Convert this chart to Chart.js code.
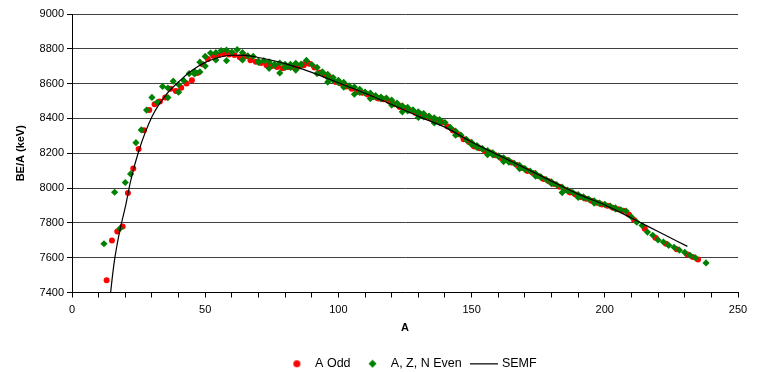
<!DOCTYPE html>
<html>
<head>
<meta charset="utf-8">
<script src="https://cdn.jsdelivr.net/npm/chart.js@4.4.1/dist/chart.umd.min.js"></script>
<style>
html, body { margin: 0; padding: 0; background: #fff; }
#wrap { width: 758px; height: 372px; }
</style>
</head>
<body>
<div id="wrap"><canvas id="chart" width="758" height="372"></canvas></div>
<script>
// odd-A nuclides: mass number and binding energy per nucleon (keV)
const oddA = [13,15,17,19,21,23,25,27,29,31,33,35,37,39,41,43,45,47,49,51,53,55,57,59,61,63,65,67,69,71,73,75,77,79,81,83,85,87,87,89,91,93,95,97,99,101,103,105,107,109,111,113,113,115,115,117,119,121,123,123,125,127,129,131,133,135,137,139,141,143,145,147,149,151,153,155,157,159,161,163,165,167,169,171,173,175,177,179,181,183,185,187,187,189,191,193,195,197,199,201,203,205,207,209,211,215,219,223,227,231,233,235];
const oddBE = [7470,7699,7751,7779,7972,8112,8224,8332,8449,8481,8498,8520,8570,8557,8576,8601,8619,8661,8711,8742,8760,8765,8770,8768,8765,8752,8757,8734,8725,8718,8705,8701,8695,8688,8696,8696,8697,8711,8705,8714,8693,8664,8649,8635,8609,8601,8584,8571,8554,8548,8537,8527,8523,8517,8514,8510,8499,8482,8472,8466,8458,8446,8431,8424,8410,8398,8392,8378,8354,8331,8309,8281,8264,8239,8229,8213,8204,8189,8173,8162,8147,8132,8115,8098,8087,8069,8052,8039,8023,8008,7991,7978,7974,7963,7948,7938,7927,7916,7905,7898,7887,7878,7870,7848,7817,7766,7714,7680,7649,7618,7604,7590];

// even-even nuclides
const evenA = [12,16,18,20,22,24,26,28,30,32,34,36,36,38,40,40,42,44,46,46,48,48,50,50,52,54,54,56,58,58,60,62,64,64,66,68,70,70,72,74,74,76,76,78,78,80,80,82,82,84,84,86,86,88,90,92,92,94,94,96,96,96,98,98,100,100,102,102,104,104,106,106,108,108,110,110,112,112,114,114,116,116,118,120,120,122,122,124,124,124,126,126,128,128,130,130,130,132,132,134,134,136,136,136,138,138,140,142,142,144,144,146,148,148,150,150,152,152,154,154,156,156,158,158,160,160,162,162,164,164,166,168,168,170,170,172,174,174,176,176,178,180,180,182,184,184,186,186,188,190,190,192,192,194,196,196,198,198,200,202,204,204,206,208,210,212,214,216,218,220,222,224,226,228,230,232,234,238];
const evenBE = [7680,7976,7767,8032,8081,8261,8334,8448,8521,8493,8584,8575,8520,8614,8595,8551,8617,8658,8669,8656,8667,8723,8756,8701,8776,8778,8736,8790,8792,8732,8781,8795,8778,8736,8760,8756,8730,8722,8732,8725,8688,8705,8712,8718,8661,8711,8693,8693,8711,8717,8678,8712,8708,8733,8710,8693,8658,8667,8662,8635,8654,8609,8635,8620,8605,8619,8607,8580,8587,8585,8580,8539,8567,8550,8547,8551,8545,8514,8531,8523,8512,8523,8517,8505,8477,8488,8478,8467,8473,8438,8463,8444,8449,8443,8430,8438,8406,8428,8409,8414,8408,8396,8403,8374,8393,8377,8376,8347,8346,8327,8304,8304,8277,8280,8250,8262,8244,8233,8227,8225,8215,8192,8202,8190,8183,8184,8174,8152,8159,8149,8142,8130,8112,8112,8107,8097,8084,8069,8064,8061,8049,8035,8025,8018,8005,7974,7989,7983,7974,7963,7947,7949,7943,7936,7927,7914,7914,7912,7906,7897,7886,7880,7875,7868,7834,7804,7785,7747,7729,7702,7690,7671,7660,7643,7630,7614,7599,7570];

// SEMF curve
const semfA = [14,15,16,18,20,22,25,30,35,40,45,50,55,60,65,70,80,90,100,110,120,130,140,150,160,170,180,190,200,210,220,231];
const semfBE = [7330,7470,7590,7760,7890,8040,8210,8410,8530,8610,8675,8722,8750,8763,8762,8750,8715,8665,8605,8545,8480,8412,8350,8265,8190,8115,8040,7965,7903,7828,7750,7665];

const xTicks = [0, 50, 100, 150, 200, 250];

const pts = (xs, ys) => xs.map((x, i) => ({ x: x, y: ys[i] }));

function marker(draw, w, h) {
  const c = document.createElement('canvas');
  c.width = w; c.height = h;
  draw(c.getContext('2d'));
  return c;
}
const redDot = marker(g => { g.fillStyle = '#ff0000'; g.beginPath(); g.arc(4.5, 4.5, 3.5, 0, Math.PI * 2); g.fill(); }, 9, 9);
const greenDiamond = marker(g => {
  g.fillStyle = '#008000'; g.beginPath();
  g.moveTo(4.5, 0.5); g.lineTo(8.5, 4.5); g.lineTo(4.5, 8.5); g.lineTo(0.5, 4.5); g.closePath(); g.fill();
}, 9, 9);
const blackLine = marker(g => { g.fillStyle = '#000'; g.fillRect(0, 1, 28, 1.3); }, 28, 3);
const blank = marker(() => {}, 1, 1);

const whiteBg = {
  id: 'whiteBg',
  beforeDraw(chart) {
    const c = chart.ctx;
    c.save(); c.fillStyle = '#fff'; c.fillRect(0, 0, chart.width, chart.height); c.restore();
  }
};

const font = { family: '"Liberation Sans", Arial, sans-serif', size: 11 };
const legendFont = { family: '"Liberation Sans", Arial, sans-serif', size: 12.5 };

new Chart(document.getElementById('chart'), {
  type: 'scatter',
  data: {
    datasets: [
      { label: 'A Odd', data: pts(oddA, oddBE), pointStyle: 'circle', pointRadius: 3, backgroundColor: '#ff0000', borderColor: '#ff0000', borderWidth: 0, order: 3 },
      { label: 'A, Z, N Even', data: pts(evenA, evenBE), pointStyle: 'rectRot', pointRadius: 3.6, backgroundColor: '#008000', borderColor: '#008000', borderWidth: 0, order: 2 },
      { label: 'SEMF', type: 'line', data: pts(semfA, semfBE), showLine: true, borderColor: '#000', borderWidth: 1.2, pointRadius: 0, fill: false, cubicInterpolationMode: 'monotone', order: 1 }
    ]
  },
  options: {
    responsive: false,
    animation: false,
    layout: { padding: { left: 12, right: 20, top: 14, bottom: -8 } },
    plugins: {
      tooltip: { enabled: false },
      legend: {
        position: 'bottom',
        labels: {
          usePointStyle: true,
          pointStyleWidth: 24,
          padding: 10,
          color: '#000',
          font: legendFont,
          // first entry is an empty spacer that pushes the legend right, as in the original
          generateLabels: () => [
            { text: '\u00a0'.repeat(9), pointStyle: blank, hidden: false, lineWidth: 0 },
            { text: 'A Odd', pointStyle: redDot, datasetIndex: 0, hidden: false, lineWidth: 0 },
            { text: 'A, Z, N Even', pointStyle: greenDiamond, datasetIndex: 1, hidden: false, lineWidth: 0 },
            { text: 'SEMF', pointStyle: blackLine, datasetIndex: 2, hidden: false, lineWidth: 0 }
          ]
        }
      }
    },
    scales: {
      x: {
        type: 'linear', min: 0, max: 250,
        afterFit: s => { s.height = 55; },
        afterBuildTicks: s => { s.ticks = []; for (let v = 0; v <= 250; v += 10) s.ticks.push({ value: v }); },
        ticks: {
          autoSkip: false, maxRotation: 0, color: '#000', font: font, padding: 6,
          callback: v => xTicks.includes(v) ? String(v) : ''
        },
        grid: { drawOnChartArea: false, tickLength: 5, tickColor: '#000' },
        border: { color: '#000' },
        title: { display: true, text: 'A', color: '#000', font: Object.assign({}, font, { weight: 'bold' }), padding: { top: 4, bottom: 12.5 } }
      },
      y: {
        type: 'linear', min: 7400, max: 9000,
        afterFit: s => { s.width = 60; },
        ticks: { stepSize: 200, color: '#000', font: font, padding: 3, callback: v => String(v) },
        grid: { color: '#404040', tickColor: '#000', tickLength: 5 },
        border: { color: '#000' },
        title: { display: true, text: 'BE/A (keV)', color: '#000', font: Object.assign({}, font, { weight: 'bold' }), padding: { top: 2, bottom: 2 } }
      }
    }
  },
  plugins: [whiteBg]
});
</script>
</body>
</html>
